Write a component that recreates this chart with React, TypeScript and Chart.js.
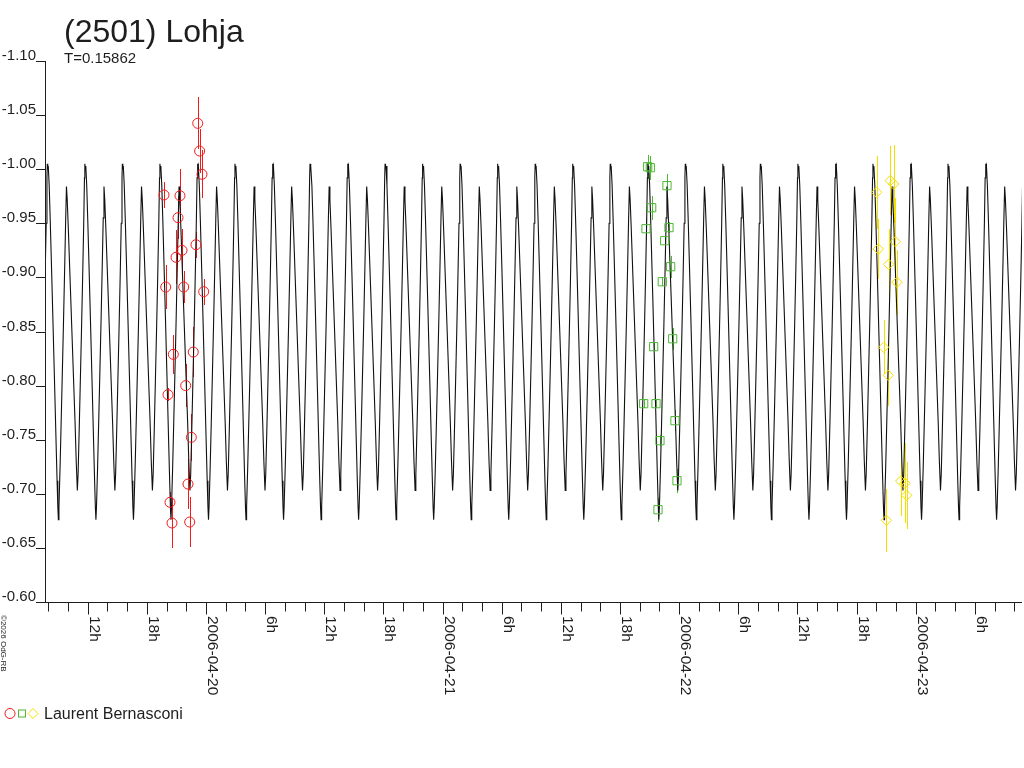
import { useEffect, useRef } from 'react';
import { Chart, registerables } from 'chart.js';

Chart.register(...registerables);

const TITLE = '(2501) Lohja';
const SUBTITLE = 'T=0.15862';
const OBSERVER = 'Laurent Bernasconi';
const COPYRIGHT = '\u00a92026 OdG-RB';
const FONT = "'Liberation Sans', Arial, sans-serif";
const INK = '#1e1e1e';

// time is in days since 2006-04-19 00:00 UT
const X_MIN = 0.3195;
const X_MAX = 4.449;
const Y_MIN = -1.1;
const Y_MAX = -0.6;

const Y_TICKS = [-1.1, -1.05, -1.0, -0.95, -0.9, -0.85, -0.8, -0.75, -0.7, -0.65, -0.6];
const X_MINOR_STEP = 2 / 24;
const X_MAJOR_DAYS = [0.5, 0.75, 1, 1.25, 1.5, 1.75, 2, 2.25, 2.5, 2.75, 3, 3.25, 3.5, 3.75, 4, 4.25];
const X_MAJOR_LABELS = [
  '12h', '18h', '2006-04-20', '6h', '12h', '18h', '2006-04-21', '6h',
  '12h', '18h', '2006-04-22', '6h', '12h', '18h', '2006-04-23', '6h',
];

// model lightcurve: one period, phase 0 = primary maximum
const PERIOD = 0.15862;
const EPOCH = 0.3293;
const MODEL_PHASE = [
  0.0, 0.012, 0.025, 0.05, 0.08, 0.11, 0.14, 0.17, 0.2, 0.23, 0.26, 0.28, 0.295,
  0.31, 0.34, 0.37, 0.4, 0.43, 0.46, 0.49, 0.51,
  0.53, 0.56, 0.59, 0.62, 0.65, 0.68, 0.71, 0.74, 0.77, 0.8,
  0.82, 0.85, 0.88, 0.91, 0.94, 0.97, 0.99,
];
const MODEL_MAG = [
  -1.005, -1.0, -1.003, -0.985, -0.95, -0.912, -0.873, -0.833, -0.793, -0.752, -0.712, -0.688, -0.676,
  -0.688, -0.725, -0.768, -0.812, -0.857, -0.905, -0.955, -0.984,
  -0.972, -0.945, -0.915, -0.885, -0.855, -0.825, -0.795, -0.765, -0.73, -0.703,
  -0.718, -0.76, -0.805, -0.85, -0.898, -0.95, -0.992,
];

// session 1 (red circles)
const S1_T = [
  0.965, 0.973, 0.983, 0.8225, 0.89, 0.8817, 0.8986, 0.8732, 0.9577, 0.8297, 0.9057,
  0.9903, 0.8618, 0.9463, 0.9142, 0.8394, 0.9379, 0.9239, 0.8478, 0.8563, 0.9311,
];
const S1_MAG = [
  -1.0424, -1.0168, -0.9953, -0.9762, -0.9755, -0.9552, -0.925, -0.9186, -0.9302, -0.8911, -0.8911,
  -0.8868, -0.8289, -0.831, -0.8, -0.7916, -0.7522, -0.709, -0.6921, -0.673, -0.6739,
];
const S1_ERR = [
  0.024, 0.02, 0.022, 0.012, 0.025, 0.02, 0.02, 0.025, 0.012, 0.02, 0.015,
  0.012, 0.018, 0.023, 0.02, 0.006, 0.022, 0.023, 0.01, 0.023, 0.023,
];

// session 2 (green squares)
const S2_T = [
  2.8668, 2.878, 2.9484, 2.8838, 2.8597, 2.9569, 2.9387, 2.964, 2.9286, 2.9725, 2.8922,
  2.85, 2.902, 2.9822, 2.9188, 2.9907, 2.9104,
];
const S2_MAG = [
  -1.0023, -1.0014, -0.9848, -0.9644, -0.945, -0.946, -0.9339, -0.9099, -0.896, -0.8433, -0.836,
  -0.7833, -0.7833, -0.7676, -0.7491, -0.7121, -0.6853,
];
const S2_ERR = [
  0.011, 0.011, 0.011, 0.011, 0.01, 0.005, 0.004, 0.01, 0.004, 0.01, 0.004,
  0.004, 0.004, 0.01, 0.005, 0.011, 0.011,
];

// session 3 (yellow diamonds)
const S3_T = [
  3.8347, 3.8922, 3.9066, 3.8415, 3.9137, 3.8855, 3.9206, 3.8644, 3.8838, 3.9362, 3.9544, 3.9614, 3.8757,
];
const S3_MAG = [
  -0.9786, -0.9894, -0.9863, -0.9262, -0.933, -0.9121, -0.8955, -0.8354, -0.8095, -0.7118, -0.7097, -0.6986, -0.6755,
];
const S3_ERR = [
  0.034, 0.032, 0.036, 0.028, 0.04, 0.033, 0.03, 0.025, 0.028, 0.032, 0.037, 0.031, 0.029,
];

const SESSIONS = [
  { t: S1_T, mag: S1_MAG, err: S1_ERR, color: '#f01c1c', style: 'circle', radius: 5 },
  { t: S2_T, mag: S2_MAG, err: S2_ERR, color: '#4cb834', style: 'rect', radius: 5.8 },
  { t: S3_T, mag: S3_MAG, err: S3_ERR, color: '#f4de00', style: 'rectRot', radius: 5.2 },
];

function buildModel() {
  const pts: { x: number; y: number }[] = [];
  const first = Math.floor((X_MIN - EPOCH) / PERIOD) - 1;
  const last = Math.ceil((X_MAX - EPOCH) / PERIOD) + 1;
  for (let k = first; k <= last; k++) {
    MODEL_PHASE.forEach((p, i) => {
      pts.push({ x: EPOCH + (k + p) * PERIOD, y: MODEL_MAG[i] });
    });
  }
  return pts;
}

const decorations = {
  id: 'decorations',
  beforeDatasetsDraw(chart: any) {
    const { ctx, scales } = chart;
    const xs = scales.x;
    const ys = scales.y;
    ctx.save();
    SESSIONS.forEach((s) => {
      ctx.fillStyle = s.color;
      s.t.forEach((t, i) => {
        const px = Math.round(xs.getPixelForValue(t));
        const y1 = Math.round(ys.getPixelForValue(s.mag[i] - s.err[i]));
        const y2 = Math.round(ys.getPixelForValue(s.mag[i] + s.err[i]));
        ctx.fillRect(px, y1, 1, y2 - y1);
      });
    });
    ctx.restore();
  },
  afterDraw(chart: any) {
    const { ctx, scales, chartArea } = chart;
    const xs = scales.x;
    const ys = scales.y;
    const { left, right, top, bottom } = chartArea;
    ctx.save();
    ctx.strokeStyle = INK;
    ctx.fillStyle = INK;
    ctx.lineWidth = 1;

    // axis lines
    ctx.beginPath();
    ctx.moveTo(Math.round(left) + 0.5, top);
    ctx.lineTo(Math.round(left) + 0.5, bottom);
    ctx.moveTo(left - 9, Math.round(bottom) + 0.5);
    ctx.lineTo(right, Math.round(bottom) + 0.5);
    ctx.stroke();

    // y ticks and labels
    ctx.font = `15px ${FONT}`;
    ctx.textAlign = 'right';
    ctx.textBaseline = 'alphabetic';
    Y_TICKS.forEach((v) => {
      const py = Math.round(ys.getPixelForValue(v)) + 0.5;
      ctx.beginPath();
      ctx.moveTo(left - 9, py);
      ctx.lineTo(left, py);
      ctx.stroke();
      ctx.fillText(v.toFixed(2), left - 9, py - 2);
    });

    // x ticks
    const by = Math.round(bottom) + 0.5;
    for (let t = Math.ceil(X_MIN / X_MINOR_STEP) * X_MINOR_STEP; t <= X_MAX; t += X_MINOR_STEP) {
      const px = Math.round(xs.getPixelForValue(t)) + 0.5;
      ctx.beginPath();
      ctx.moveTo(px, by);
      ctx.lineTo(px, by + 9);
      ctx.stroke();
    }
    ctx.font = `15.5px ${FONT}`;
    ctx.textAlign = 'left';
    ctx.textBaseline = 'alphabetic';
    X_MAJOR_DAYS.forEach((t, i) => {
      const px = Math.round(xs.getPixelForValue(t)) + 0.5;
      ctx.beginPath();
      ctx.moveTo(px, by);
      ctx.lineTo(px, by + 12);
      ctx.stroke();
      ctx.save();
      ctx.translate(px + 1, bottom + 14);
      ctx.rotate(Math.PI / 2);
      ctx.fillText(X_MAJOR_LABELS[i], 0, 0);
      ctx.restore();
    });

    // title block
    ctx.font = `32px ${FONT}`;
    ctx.fillText(TITLE, 64, 42);
    ctx.font = `15px ${FONT}`;
    ctx.fillText(SUBTITLE, 64, 63);

    // copyright, vertical
    ctx.save();
    ctx.translate(1, 615);
    ctx.rotate(Math.PI / 2);
    ctx.font = `8px ${FONT}`;
    ctx.fillText(COPYRIGHT, 0, 0);
    ctx.restore();

    // legend
    const ly = 713.5;
    ctx.lineWidth = 1;
    ctx.strokeStyle = SESSIONS[0].color;
    ctx.beginPath();
    ctx.arc(10, ly, 5, 0, Math.PI * 2);
    ctx.stroke();
    ctx.strokeStyle = SESSIONS[1].color;
    ctx.strokeRect(18.5, ly - 3.5, 7, 7);
    ctx.strokeStyle = SESSIONS[2].color;
    ctx.beginPath();
    ctx.moveTo(33, ly - 5);
    ctx.lineTo(38, ly);
    ctx.lineTo(33, ly + 5);
    ctx.lineTo(28, ly);
    ctx.closePath();
    ctx.stroke();
    ctx.fillStyle = INK;
    ctx.font = `16px ${FONT}`;
    ctx.fillText(OBSERVER, 44, 719);

    ctx.restore();
  },
};

export default function App() {
  const canvasRef = useRef<HTMLCanvasElement>(null);

  useEffect(() => {
    if (!canvasRef.current) return;

    const chart = new Chart(canvasRef.current, {
      type: 'scatter',
      data: {
        datasets: [
          {
            type: 'line',
            data: buildModel(),
            borderColor: '#111',
            borderWidth: 1.1,
            pointRadius: 0,
            tension: 0,
            order: 2,
          } as any,
          ...SESSIONS.map((s) => ({
            data: s.t.map((t, i) => ({ x: t, y: s.mag[i] })),
            pointStyle: s.style,
            pointRadius: s.radius,
            pointBorderWidth: 1,
            pointBorderColor: s.color,
            pointBackgroundColor: 'rgba(0,0,0,0)',
            order: 1,
          })),
        ],
      },
      options: {
        animation: false,
        responsive: true,
        maintainAspectRatio: false,
        events: [],
        layout: { autoPadding: false, padding: { left: 45, top: 61, right: 2, bottom: 166 } },
        plugins: { legend: { display: false }, tooltip: { enabled: false } },
        scales: {
          x: { type: 'linear', display: false, min: X_MIN, max: X_MAX },
          y: { type: 'linear', display: false, min: Y_MIN, max: Y_MAX, reverse: true },
        },
      },
      plugins: [decorations],
    });

    return () => {
      chart.destroy();
    };
  }, []);

  return (
    <div style={{ position: 'fixed', left: 0, top: 0, width: 1024, height: 768, background: '#fff' }}>
      <canvas ref={canvasRef} />
    </div>
  );
}
